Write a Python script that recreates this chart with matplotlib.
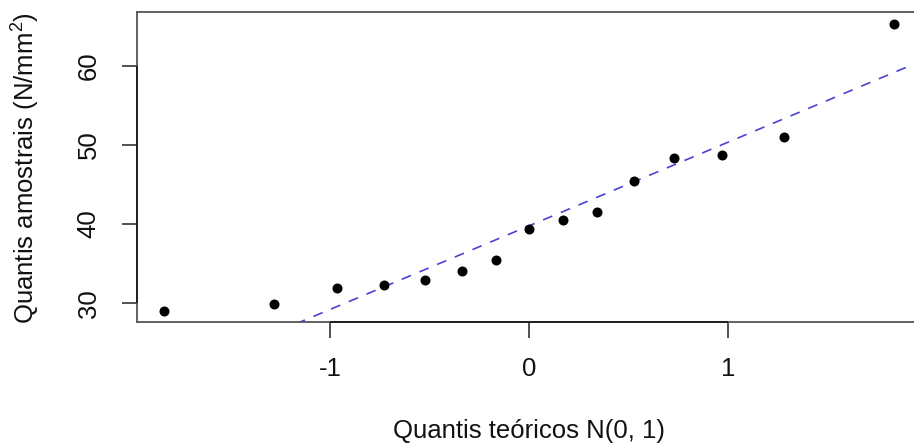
import numpy as np
import matplotlib
matplotlib.use("Agg")
import matplotlib.pyplot as plt
from statistics import NormalDist

# Sample quantiles (sorted), N/mm^2
sample = [29.07, 29.91, 31.98, 32.36, 32.99, 34.08, 35.52, 39.34,
          40.52, 41.58, 45.49, 48.35, 48.73, 51.00, 65.32]
xtick_vals = [-1, 0, 1]
ytick_vals = [30, 40, 50, 60]
xlabel = "Quantis teóricos N(0, 1)"
ylabel = r"Quantis amostrais (N/mm$^2$)"

n = len(sample)
nd = NormalDist()
a = 0.5 if n > 10 else 3 / 8
theo = [nd.inv_cdf((i + 1 - a) / (n + 1 - 2 * a)) for i in range(n)]

# qqline through quartiles
q1, q3 = np.quantile(sample, [0.25, 0.75])
z1, z3 = nd.inv_cdf(0.25), nd.inv_cdf(0.75)
slope = (q3 - q1) / (z3 - z1)
intercept = q1 - slope * z1

plt.rcParams['font.family'] = ['Liberation Sans', 'DejaVu Sans']
plt.rcParams['mathtext.fontset'] = 'custom'
plt.rcParams['mathtext.rm'] = 'Liberation Sans'
FS = 18.5

W, H = 914, 447
fig = plt.figure(figsize=(W / 100, H / 100), dpi=100)
xlim = (-1.973, 1.973)
ylim = (27.64, 66.82)
left_px, top_px, bottom_px = 136.7, 11.7, 322.0
xscale = 199.0
width_px = (xlim[1] - xlim[0]) * xscale
ax = fig.add_axes([left_px / W, (H - bottom_px) / H, width_px / W, (bottom_px - top_px) / H])
ax.set_xlim(*xlim)
ax.set_ylim(*ylim)

xs = np.array(xlim)
ax.plot(xs, intercept + slope * xs, color='#4a42d6', lw=1.2, dashes=(6, 5.5), zorder=2)
ax.scatter(theo, sample, s=52, color='black', zorder=3, linewidths=0)

for sp in ax.spines.values():
    sp.set_color('#555555')
    sp.set_linewidth(1.3)

ax.set_xticks(xtick_vals)
ax.set_xticklabels([str(v) for v in xtick_vals])
ax.set_yticks(ytick_vals)
ax.set_yticklabels([str(v) for v in ytick_vals], rotation=90, va='center')
ax.tick_params(axis='x', length=11.5, width=1.2, color='#333333', pad=14, labelsize=FS, labelcolor='#111111')
ax.tick_params(axis='y', length=11, width=1.2, color='#333333', pad=15, labelsize=FS, labelcolor='#111111')

# R-style axis line between first and last tick
ax.plot([xtick_vals[0], xtick_vals[-1]], [ylim[0], ylim[0]], color='#222222', lw=1.4,
        clip_on=False, zorder=4, solid_capstyle='butt')
ax.plot([xlim[0], xlim[0]], [ytick_vals[0], ytick_vals[-1]], color='#222222', lw=1.4,
        clip_on=False, zorder=4, solid_capstyle='butt')

fig.text(529.3 / W, (H - 438) / H, xlabel, ha='center', va='baseline', fontsize=FS, color='#111111')
fig.text(25 / W, 1 - 168 / H, ylabel, ha='center', va='center', rotation=90, fontsize=FS, color='#111111')

fig.savefig('out.png', dpi=100)
